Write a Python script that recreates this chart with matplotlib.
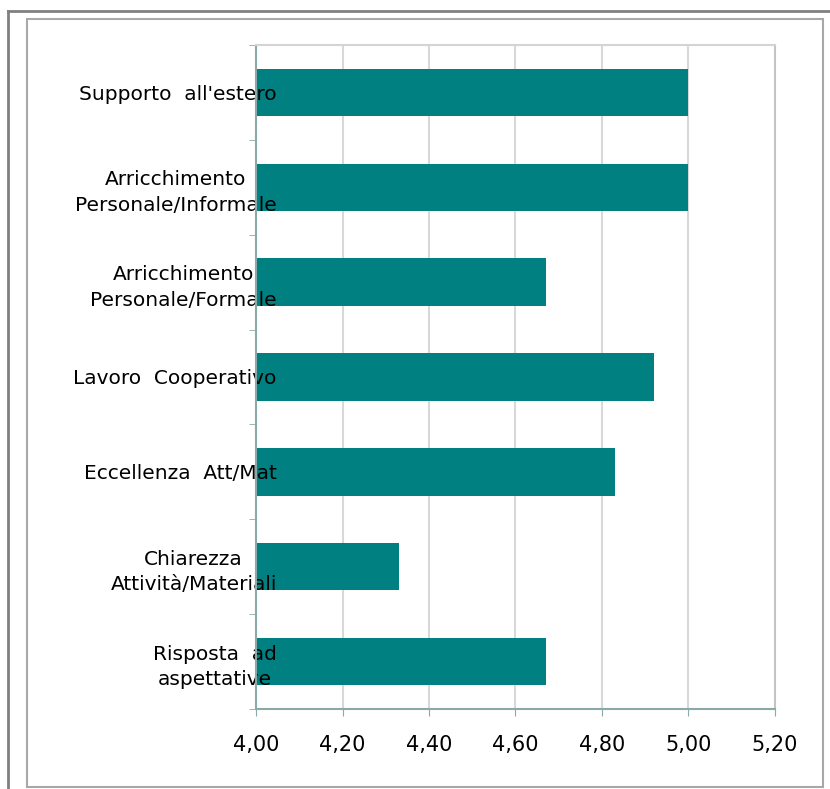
import numpy as np
import matplotlib.pyplot as plt
from matplotlib.lines import Line2D
from matplotlib.patches import Rectangle

categories = ["Supporto  all'estero",
              "Arricchimento\nPersonale/Informale",
              "Arricchimento\nPersonale/Formale",
              "Lavoro  Cooperativo",
              "Eccellenza  Att/Mat",
              "Chiarezza\nAttività/Materiali",
              "Risposta  ad\naspettative"]
values = [5.00, 5.00, 4.67, 4.92, 4.83, 4.33, 4.67]
xticks = [4.00, 4.20, 4.40, 4.60, 4.80, 5.00, 5.20]

W, H = 830, 789
fig = plt.figure(figsize=(W / 100, H / 100), dpi=100)
ax = fig.add_axes([256 / W, 1 - 709 / H, (775 - 256) / W, (709 - 45) / H])

axis_col = '#8aaaaa'
pos = np.arange(len(categories))

# gridlines behind bars
ax.vlines(xticks[1:-1], -0.5, len(categories) - 0.5, color='#d8d8d8', lw=1.5, zorder=0)
ax.barh(pos, values, left=0, height=0.5, color='#008080', zorder=1)

ax.set_xlim(xticks[0], xticks[-1])
ax.set_ylim(len(categories) - 0.5, -0.5)

ax.set_xticks(xticks)
ax.set_xticklabels(['{:.2f}'.format(v).replace('.', ',') for v in xticks], fontsize=15)
ax.tick_params(axis='x', direction='out', length=5, color=axis_col, pad=14)

ax.set_yticks(pos)
ax.set_yticklabels(categories, fontsize=14.5, multialignment='center', linespacing=1.45)
ax.tick_params(axis='y', which='major', length=0, pad=-15)
ax.set_yticks(np.arange(len(categories) + 1) - 0.5, minor=True)
ax.tick_params(axis='y', which='minor', direction='out', length=5, color=axis_col)

ax.spines['left'].set_color(axis_col)
ax.spines['bottom'].set_color(axis_col)
ax.spines['top'].set_color('#d4d4d4')
ax.spines['right'].set_color('#c4c4c4')
for s in ax.spines.values():
    s.set_linewidth(1.5)

# outer frames
fig.add_artist(Line2D([8 / W, 1], [1 - 11 / H] * 2, color='#808080', lw=2, transform=fig.transFigure))
fig.add_artist(Line2D([8 / W] * 2, [0, 1 - 11 / H], color='#808080', lw=2, transform=fig.transFigure))
fig.add_artist(Rectangle((27 / W, 1 - 787 / H), (823 - 27) / W, (787 - 19) / H,
                         fill=False, edgecolor='#a8a8a8', lw=1.5, transform=fig.transFigure))

fig.savefig('out.png', dpi=100)
